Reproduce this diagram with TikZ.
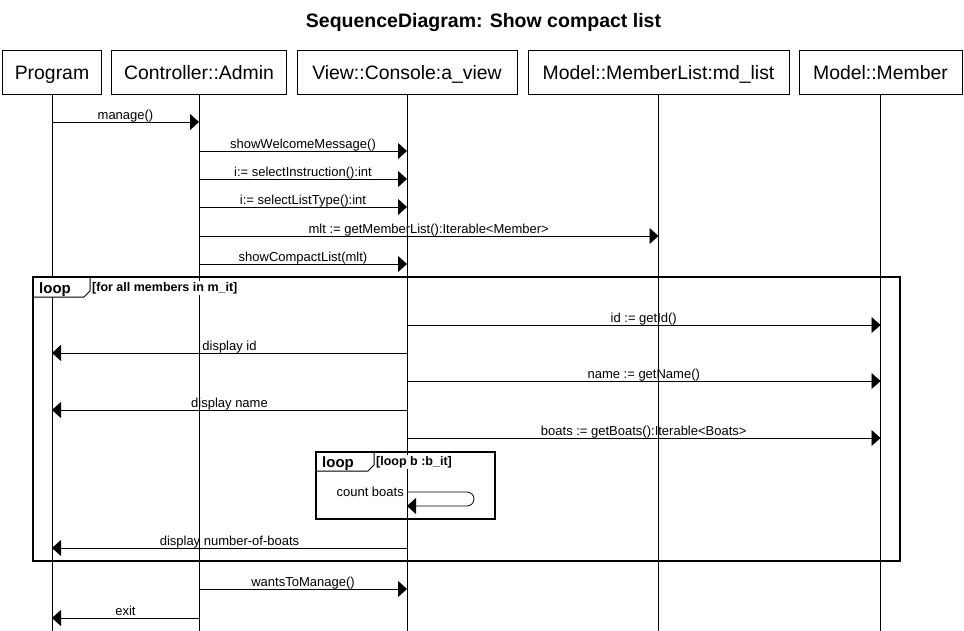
\documentclass[tikz,border=0pt]{standalone}
\usepackage{fontspec}
\setmainfont{Liberation Sans}
\usetikzlibrary{arrows.meta}

\begin{document}
\begin{tikzpicture}[x=1pt, y=-1pt,
    actor/.style={draw, line width=0.8pt, minimum height=43.5pt, text height=15pt, text depth=0pt, inner sep=0pt, font=\fontsize{19.4}{22}\selectfont},
    life/.style={line width=0.8pt},
    msg/.style={line width=0.8pt, -{Triangle[length=9pt, width=16pt]}},
    lbl/.style={anchor=base, yshift=2.5pt, inner sep=0pt, font=\fontsize{13}{15}\selectfont},
    frame/.style={line width=1.6pt},
    tabline/.style={line width=1pt, fill=white},
    tabtext/.style={anchor=base west, inner sep=0pt, font=\bfseries\fontsize{15}{17}\selectfont},
    guard/.style={anchor=base west, fill=white, inner sep=1pt, font=\bfseries\fontsize{12.5}{14}\selectfont}]

\useasboundingbox (0,0) rectangle (964,631);

\node[anchor=base, font=\bfseries\fontsize{19.5}{22}\selectfont] (title) at (483.5,28) {SequenceDiagram: Show compact list};

% participants
\node[actor, minimum width=99pt] (prog) at (52,72.5) {Program};
\node[actor, minimum width=175pt] (ctrl) at (199,72.5) {Controller::Admin};
\node[actor, minimum width=220pt] (view) at (407,72.5) {View::Console:a\_view};
\node[actor, minimum width=261pt] (mlist) at (658.5,72.5) {Model::MemberList:md\_list};
\node[actor, minimum width=163pt] (member) at (880.5,72.5) {Model::Member};

\draw[life] (prog.south) -- (prog.south |- 0,631);
\draw[life] (ctrl.south) -- (ctrl.south |- 0,631);
\draw[life] (view.south) -- (view.south |- 0,631);
\draw[life] (mlist.south) -- (mlist.south |- 0,631);
\draw[life] (member.south) -- (member.south |- 0,631);

% loop frames
\draw[tabline] (33,277) -- (90,277) -- (90,291) -- (84,297) -- (33,297) -- cycle;
\draw[frame] (33,277) rectangle (900,561);
\node[tabtext] (loopA) at (39,293) {loop};
\node[guard] (guardA) at (91,291) {[for all members in m\_it]};

\draw[tabline] (316,452) -- (374,452) -- (374,465) -- (368,471) -- (316,471) -- cycle;
\draw[frame] (316,452) rectangle (495,519);
\node[tabtext] (loopB) at (322,467) {loop};
\node[guard] (guardB) at (375,465) {[loop b :b\_it]};

% messages
\draw[msg] (prog |- 0,122) -- node[lbl] (m1) {manage()} (ctrl |- 0,122);
\draw[msg] (ctrl |- 0,151) -- node[lbl] (m2) {showWelcomeMessage()} (view |- 0,151);
\draw[msg] (ctrl |- 0,179) -- node[lbl] (m3) {i:= selectInstruction():int} (view |- 0,179);
\draw[msg] (ctrl |- 0,207) -- node[lbl] (m4) {i:= selectListType():int} (view |- 0,207);
\draw[msg] (ctrl |- 0,236) -- node[lbl] (m5) {mlt := getMemberList():Iterable<Member>} (mlist |- 0,236);
\draw[msg] (ctrl |- 0,264) -- node[lbl] (m6) {showCompactList(mlt)} (view |- 0,264);

\draw[msg] (view |- 0,325) -- node[lbl] (m7) {id := getId()} (member |- 0,325);
\draw[msg] (view |- 0,353) -- node[lbl] (m8) {display id} (prog |- 0,353);
\draw[msg] (view |- 0,381) -- node[lbl] (m9) {name := getName()} (member |- 0,381);
\draw[msg] (view |- 0,410) -- node[lbl] (m10) {display name} (prog |- 0,410);
\draw[msg] (view |- 0,438) -- node[lbl] (m11) {boats := getBoats():Iterable<Boats>} (member |- 0,438);

\draw[msg, rounded corners=7pt] (view |- 0,492) -- ++(67,0) -- ++(0,14) -- (view |- 0,506);
\node[anchor=base east, inner sep=0pt, font=\fontsize{13}{15}\selectfont] (m12) at (404,496) {count boats};

\draw[msg] (view |- 0,548) -- node[lbl] (m13) {display number-of-boats} (prog |- 0,548);
\draw[msg] (ctrl |- 0,589) -- node[lbl] (m14) {wantsToManage()} (view |- 0,589);
\draw[msg] (ctrl |- 0,618) -- node[lbl] (m15) {exit} (prog |- 0,618);

\end{tikzpicture}
\end{document}
